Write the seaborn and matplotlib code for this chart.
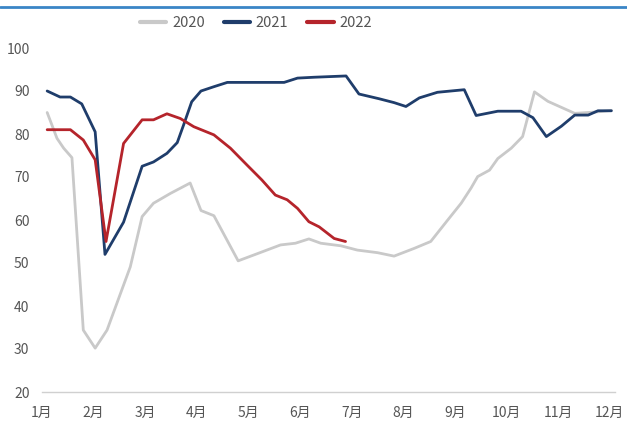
import matplotlib
matplotlib.use("Agg")
import matplotlib.pyplot as plt
from matplotlib.lines import Line2D
import seaborn as sns
import pandas as pd

# Weekly readings, x given as month position (1 = January ... 12 = December)
x_2020 = [1.10, 1.29, 1.42, 1.58, 1.80, 2.03, 2.26, 2.52, 2.71, 2.94, 3.16, 3.49,
          3.87, 4.08, 4.33, 4.80, 5.20, 5.62, 5.91, 6.17, 6.40, 6.79, 7.11, 7.50,
          7.82, 8.21, 8.53, 8.86, 9.12, 9.31, 9.44, 9.67, 9.83, 10.09, 10.31,
          10.54, 10.80, 11.32, 11.58, 11.81, 12.03]
y_2020 = [85.0, 79.0, 76.7, 74.5, 34.4, 30.2, 34.4, 42.9, 49.1, 60.8, 63.9, 66.2,
          68.6, 62.2, 61.0, 50.5, 52.3, 54.2, 54.6, 55.6, 54.6, 54.0, 53.0, 52.4,
          51.6, 53.4, 55.0, 60.0, 63.9, 67.4, 70.1, 71.6, 74.3, 76.7, 79.4,
          89.8, 87.6, 84.8, 85.0, 85.2, 85.5]

x_2021 = [1.10, 1.35, 1.55, 1.77, 2.03, 2.22, 2.58, 2.94, 3.16, 3.42, 3.62, 3.74,
          3.90, 4.08, 4.33, 4.59, 4.97, 5.36, 5.69, 5.95, 6.27, 6.89, 7.14, 7.53,
          7.82, 8.05, 8.31, 8.66, 9.18, 9.41, 9.83, 10.28, 10.51, 10.77, 11.06,
          11.32, 11.58, 11.77, 12.03]
y_2021 = [90.0, 88.6, 88.6, 87.0, 80.5, 52.0, 59.5, 72.5, 73.5, 75.5, 78.0, 82.0,
          87.5, 90.0, 91.0, 92.0, 92.0, 92.0, 92.0, 93.0, 93.2, 93.5, 89.3, 88.2,
          87.3, 86.4, 88.4, 89.7, 90.3, 84.3, 85.3, 85.3, 83.8, 79.4, 81.8,
          84.4, 84.4, 85.4, 85.4]

x_2022 = [1.10, 1.55, 1.80, 2.03, 2.24, 2.58, 2.94, 3.16, 3.42, 3.68, 3.94, 4.33,
          4.65, 4.97, 5.26, 5.52, 5.75, 5.95, 6.17, 6.37, 6.66, 6.88]
y_2022 = [81.0, 81.0, 78.6, 74.0, 55.0, 77.8, 83.3, 83.3, 84.7, 83.6, 81.7, 79.8,
          76.7, 72.8, 69.3, 65.8, 64.7, 62.7, 59.6, 58.4, 55.7, 55.0]

years = ["2020", "2021", "2022"]
month_labels = [f"{m}月" for m in range(1, 13)]
y_ticks = [20, 30, 40, 50, 60, 70, 80, 90, 100]

frames = []
for yr, xs, ys in zip(years, [x_2020, x_2021, x_2022], [y_2020, y_2021, y_2022]):
    frames.append(pd.DataFrame({"month": xs, "value": ys, "year": yr}))
df = pd.concat(frames, ignore_index=True)

sns.set_theme(style="white")
plt.rcParams["font.family"] = ["Noto Sans CJK SC", "DejaVu Sans"]

fig = plt.figure(figsize=(6.27, 4.26), dpi=100)
ax = fig.add_axes([42 / 627, 34 / 426, 573 / 627, 344 / 426])

palette = {"2020": "#c9c9c9", "2021": "#1f3d6b", "2022": "#b5242b"}
sns.lineplot(data=df, x="month", y="value", hue="year", palette=palette,
             linewidth=2.0, ax=ax, sort=False, estimator=None)

ax.set_xlim(1, 12.1)
ax.set_ylim(20, 100)
ax.set_xticks(range(1, 13))
ax.set_xticklabels(month_labels)
ax.set_yticks(y_ticks)
ax.set_xlabel("")
ax.set_ylabel("")

for side in ["top", "right", "left"]:
    ax.spines[side].set_visible(False)
ax.spines["bottom"].set_color("#d0d0d0")
ax.spines["bottom"].set_linewidth(1.0)
ax.tick_params(axis="x", colors="#555555", labelsize=10, length=4, width=0.8,
               direction="out", pad=6)
ax.tick_params(axis="x", color="#d0d0d0")
ax.tick_params(axis="y", colors="#555555", labelsize=10, length=0, pad=9)
ax.grid(False)

leg = ax.legend(loc="center", bbox_to_anchor=(256 / 627, 403 / 426),
                bbox_transform=fig.transFigure, ncol=3, frameon=False,
                fontsize=10.5, handlelength=1.8, columnspacing=1.3,
                handletextpad=0.4)
for line in leg.get_lines():
    line.set_linewidth(3.0)
for t in leg.get_texts():
    t.set_color("#555555")

# thin blue rule along the top edge
fig.add_artist(Line2D([0, 1], [419 / 426, 419 / 426], transform=fig.transFigure,
                      color="#3a85c6", linewidth=2.0))

fig.savefig("out.png", dpi=100)
